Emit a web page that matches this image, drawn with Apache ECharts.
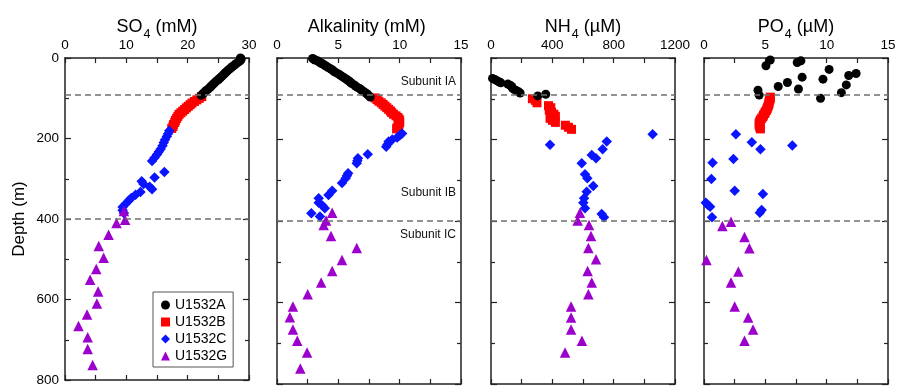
<!DOCTYPE html>
<html>
<head>
<meta charset="utf-8">
<script src="https://cdn.jsdelivr.net/npm/echarts@6/dist/echarts.min.js"></script>
<style>
html, body { margin: 0; padding: 0; background: #fff; }
#chart { width: 899px; height: 387px; }
</style>
</head>
<body>
<div id="chart"></div>
<script>
// Pore-water profiles, Site U1532. Each entry: [depth (m), concentration]
const sites = ['U1532A', 'U1532B', 'U1532C', 'U1532G'];

const so4A = [[0,28.6],[2,28.7],[4,28.7],[6,28.6],[9,28.4],[12,28.1],[15,27.8],[18,27.6],[21,27.3],[24,27.1],[27,26.9],[30,26.6],[33,26.4],[36,26.2],[39,26.0],[42,25.8],[45,25.6],[48,25.4],[51,25.2],[54,25.0],[57,24.7],[60,24.5],[63,24.3],[66,24.1],[69,23.9],[72,23.7],[75,23.5],[78,23.3],[81,23.0],[84,22.8],[87,22.6],[90,22.4],[93,22.2]];
const so4B = [[96,22.3],[100,21.9],[104,21.5],[108,21.1],[112,20.7],[116,20.4],[120,20.1],[124,19.8],[128,19.5],[132,19.2],[136,18.9],[140,18.6],[145,18.4],[150,18.2],[155,18.0],[160,17.9],[165,17.7],[170,17.6],[175,17.4]];
const so4C = [[181,17.0],[188,16.8],[195,16.6],[203,16.3],[210,16.1],[218,15.9],[226,15.6],[233,15.3],[240,15.0],[248,14.6],[256,14.2],[283,16.2],[297,14.6],[306,12.5],[313,12.8],[320,13.8],[326,14.2],[333,12.3],[340,11.5],[348,10.8],[354,10.4],[362,9.9],[370,9.4],[378,9.4],[385,9.6]];
const so4G = [[380,9.6],[402,9.8],[410,8.4],[439,7.1],[467,5.5],[496,6.3],[524,5.1],[551,4.1],[580,5.4],[610,5.2],[637,3.6],[666,2.2],[694,3.7],[723,3.7],[763,4.5]];

const alkA = [[1,2.9],[3,3.0],[5,3.1],[7,3.3],[9,3.4],[11,3.5],[13,3.6],[15,3.75],[17,3.85],[19,3.95],[21,4.05],[24,4.2],[27,4.4],[30,4.55],[33,4.65],[36,4.8],[39,5.0],[42,5.15],[45,5.3],[48,5.45],[51,5.6],[54,5.75],[57,5.9],[60,6.0],[63,6.1],[66,6.3],[69,6.4],[72,6.55],[75,6.75],[78,6.85],[81,7.0],[84,7.15],[87,7.3],[90,7.4],[93,7.5],[96,7.6]];
const alkB = [[98,8.0],[102,8.15],[106,8.3],[110,8.5],[114,8.65],[118,8.8],[122,8.95],[126,9.1],[130,9.25],[134,9.35],[138,9.5],[142,9.7],[146,9.85],[150,9.95],[154,10.0],[158,10.0],[162,9.95],[166,9.9],[170,9.8],[174,9.75]];
const alkC = [[185,10.2],[190,10.0],[195,9.8],[200,9.4],[205,9.1],[212,9.0],[218,8.9],[236,7.4],[246,6.6],[252,6.55],[258,6.5],[283,5.8],[289,5.7],[295,5.6],[307,5.3],[326,4.5],[336,4.2],[344,3.4],[355,3.4],[362,3.7],[369,3.9],[381,2.8],[389,3.5]];
const alkG = [[380,4.5],[399,4.0],[410,3.8],[437,4.4],[466,6.5],[496,5.3],[523,4.5],[551,3.6],[580,2.5],[610,1.3],[636,1.05],[666,1.3],[694,1.65],[723,2.45],[762,1.9]];

const nh4A = [[50,10],[53,25],[56,40],[59,55],[61,65],[64,110],[67,125],[70,135],[74,140],[77,150],[80,165],[83,180],[86,190],[89,357],[93,305]];
const nh4B = [[100,270],[104,290],[110,300],[117,375],[122,390],[128,380],[133,395],[138,410],[143,420],[148,385],[153,400],[158,420],[165,485],[170,505],[175,525]];
const nh4C = [[187,1054],[205,755],[213,385],[224,728],[238,657],[246,685],[258,592],[285,613],[295,628],[314,667],[328,624],[344,607],[355,602],[369,613],[383,722],[391,737]];
const nh4G = [[380,580],[399,565],[410,639],[437,652],[466,635],[494,685],[523,630],[551,657],[580,635],[610,522],[637,522],[666,522],[694,593],[723,483]];

const po4A = [[5,5.4],[7,7.9],[11,7.6],[19,5.05],[28,10.2],[38,12.4],[43,11.8],[47,8.0],[52,9.7],[60,6.8],[66,11.6],[70,6.05],[76,7.7],[79,4.4],[85,11.2],[91,4.5],[99,9.5]];
const po4B = [[96,5.4],[100,5.4],[104,5.35],[108,5.3],[112,5.3],[116,5.25],[120,5.2],[124,5.15],[128,5.1],[132,5.0],[136,4.95],[140,4.85],[144,4.8],[148,4.7],[152,4.6],[156,4.55],[160,4.5],[165,4.5],[170,4.55],[174,4.6]];
const po4C = [[187,2.6],[207,3.9],[215,7.2],[224,4.6],[248,2.4],[257,0.7],[297,0.6],[326,2.5],[334,4.8],[355,0.15],[360,0.3],[365,0.5],[373,4.7],[380,4.55],[391,0.65]];
const po4G = [[402,2.2],[412,1.5],[439,3.3],[467,3.7],[496,0.2],[524,2.8],[551,2.2],[610,2.5],[637,3.6],[666,4.0],[694,3.3]];

// Panel headings: [main, subscript, rest]
const panelTitles = [['SO', '4', ' (mM)'], ['Alkalinity (mM)', '', ''], ['NH', '4', ' (\u00b5M)'], ['PO', '4', ' (\u00b5M)']];
const xMax = [30, 15, 1200, 15];
const xStep = [10, 5, 400, 5];
const depthMax = 800;
const depthStep = 200;
const subunitBoundaries = [91, 400];
const subunitNames = ['Subunit IA', 'Subunit IB', 'Subunit IC'];

const panelData = [
  [so4A, so4B, so4C, so4G],
  [alkA, alkB, alkC, alkG],
  [nh4A, nh4B, nh4C, nh4G],
  [po4A, po4B, po4C, po4G]
];

const FONT = 'Liberation Sans, Arial, Helvetica, sans-serif';
const gridLefts = [65, 277, 491, 704];
const gridWidth = 184;
const AXIS_COLOR = '#222';

const markerStyle = {
  U1532A: { symbol: 'circle',   size: 9,  color: '#000000' },
  U1532B: { symbol: 'rect',     size: 9,  color: '#ff0000' },
  U1532C: { symbol: 'diamond',  size: 10.5, color: '#0a14ff' },
  U1532G: { symbol: 'triangle', size: 10.5, color: '#9b00cc' }
};

// every heading keeps the subscript slot so all headings share one baseline
function titleText(p) {
  return `{m|${p[0]}}{s|${p[1] || ' '}}` + (p[2] ? `{m|${p[2]}}` : '');
}

const lineStyle = { color: AXIS_COLOR, width: 1.5 };
const tickStyle = { color: AXIS_COLOR, width: 1.2 };

const grids = [], xAxes = [], yAxes = [], series = [];

gridLefts.forEach((left, i) => {
  grids.push({ left: left, width: gridWidth, top: 58, height: 326, containLabel: false });

  const xBase = {
    gridIndex: i, type: 'value', min: 0, max: xMax[i], interval: xStep[i],
    axisLine: { show: true, onZero: false, lineStyle },
    axisTick: { show: true, inside: true, length: 5, lineStyle: tickStyle },
    minorTick: { show: true, splitNumber: 2, length: 5, lineStyle: tickStyle },
    splitLine: { show: false }
  };
  xAxes.push(Object.assign({}, xBase, {
    position: 'top',
    name: titleText(panelTitles[i]),
    nameLocation: 'middle',
    nameGap: 21,
    nameMoveOverlap: false,
    nameTextStyle: {
      rich: {
        m: { fontSize: 18, fontFamily: FONT, color: '#000', lineHeight: 19, verticalAlign: 'top' },
        s: { fontSize: 12.5, fontFamily: FONT, color: '#000', lineHeight: 12, padding: [10, 0, 0, 1], verticalAlign: 'top' }
      }
    },
    axisLabel: { show: true, margin: 6, fontSize: 13.5, fontFamily: FONT, color: '#000', formatter: v => String(v) }
  }));
  xAxes.push(Object.assign({}, xBase, {
    position: 'bottom',
    axisLabel: { show: false }
  }));

  const yBase = {
    gridIndex: i, type: 'value', inverse: true, min: 0, max: depthMax, interval: depthStep,
    axisLine: { show: true, onZero: false, lineStyle },
    axisTick: { show: true, inside: true, length: 6, lineStyle: tickStyle },
    minorTick: { show: true, splitNumber: 2, length: 4, lineStyle: tickStyle },
    splitLine: { show: false }
  };
  yAxes.push(Object.assign({}, yBase, {
    position: 'left',
    name: i === 0 ? 'Depth (m)' : '',
    nameLocation: 'middle',
    nameGap: 37,
    nameTextStyle: { fontSize: 17, fontFamily: FONT, color: '#000' },
    axisLabel: { show: i === 0, margin: 6, fontSize: 13.5, fontFamily: FONT, color: '#000' }
  }));
  yAxes.push(Object.assign({}, yBase, {
    position: 'right',
    axisLabel: { show: false }
  }));

  // draw order: B, A, C, G
  [1, 0, 2, 3].forEach(k => {
    const name = sites[k];
    const st = markerStyle[name];
    const s = {
      name: name,
      type: 'scatter',
      xAxisIndex: i * 2,
      yAxisIndex: i * 2,
      symbol: st.symbol,
      symbolSize: st.size,
      itemStyle: { color: st.color, opacity: 1 },
      emphasis: { disabled: true },
      data: panelData[i][k].map(d => [d[1], d[0]])
    };
    if (k === 0) {
      const lbl = { fontSize: 12, fontFamily: FONT, color: '#111' };
      s.markLine = {
        silent: true,
        symbol: 'none',
        animation: false,
        lineStyle: { type: [6, 4], color: '#707070', width: 1.5 },
        label: { show: false },
        data: [
          { yAxis: subunitBoundaries[0],
            label: i === 1 ? Object.assign({ show: true, position: 'insideEndTop', formatter: subunitNames[0], distance: [5, 7] }, lbl) : { show: false } },
          { yAxis: subunitBoundaries[1],
            label: i === 1 ? Object.assign({ show: true, position: 'insideEndBottom', formatter: subunitNames[2], distance: [5, 8] }, lbl) : { show: false } }
        ]
      };
      if (i === 1) {
        s.markPoint = {
          silent: true,
          symbol: 'circle',
          symbolSize: 0,
          animation: false,
          data: [{ coord: [14.6, 331], label: Object.assign({ show: true, position: 'left', distance: 0, formatter: subunitNames[1] }, lbl) }]
        };
      }
    }
    series.push(s);
  });
});

const chart = echarts.init(document.getElementById('chart'), null, { renderer: 'canvas' });
chart.setOption({
  animation: false,
  backgroundColor: '#fff',
  textStyle: { fontFamily: FONT },
  grid: grids,
  xAxis: xAxes,
  yAxis: yAxes,
  legend: {
    data: sites.map(n => ({ name: n, icon: markerStyle[n].symbol, itemStyle: { color: markerStyle[n].color } })),
    orient: 'vertical',
    left: 153,
    top: 292,
    backgroundColor: '#fff',
    borderColor: '#555',
    borderWidth: 1,
    padding: [6, 6, 4, 8],
    itemGap: 3,
    itemWidth: 9,
    itemHeight: 9,
    selectedMode: false,
    textStyle: { fontSize: 14, fontFamily: FONT, color: '#000', lineHeight: 14 }
  },
  series: series
});
</script>
</body>
</html>
